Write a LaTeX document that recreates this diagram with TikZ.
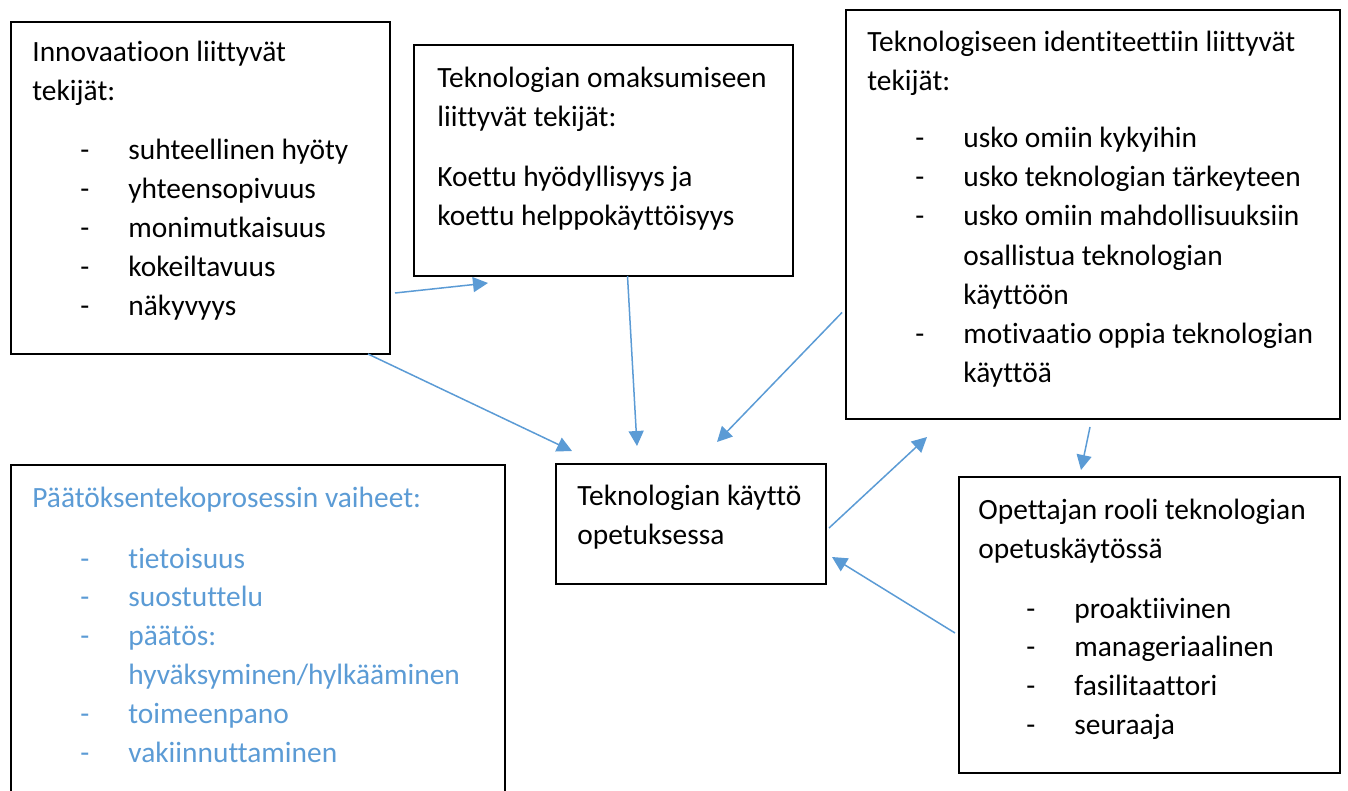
\documentclass[tikz,border=0pt]{standalone}
\usepackage{fontspec}
\setmainfont{Carlito}[Ligatures=NoCommon]
\usepackage{tikz}
\usetikzlibrary{positioning, calc, arrows.meta}
\definecolor{LinkBlue}{HTML}{5B9BD5}
\tikzset{
  factorbox/.style={draw=black, line width=1pt, inner sep=0pt, outer sep=0pt, anchor=north west},
  txt/.style={anchor=base west, inner sep=0pt, font=\fontsize{14.7}{19.4}\selectfont},
  link/.style={LinkBlue, line width=0.75pt, -{Triangle[length=7.5pt,width=7.5pt]}}
}

\begin{document}
\begin{tikzpicture}[x=0.5pt, y=-0.5pt]
  \useasboundingbox (0,0) rectangle (1348,791);

  \node[factorbox, minimum width=189.5pt, minimum height=166pt] (inno) at (11,22) {};
  \node[factorbox, minimum width=189.5pt, minimum height=115.5pt] (omak) at (414,45) {};
  \node[factorbox, minimum width=247pt, minimum height=204.5pt] (ident) at (846,10) {};
  \node[factorbox, minimum width=247pt, minimum height=170pt] (paat) at (11,465) {};
  \node[factorbox, minimum width=135pt, minimum height=60pt] (use) at (556,464) {};
  \node[factorbox, minimum width=190.5pt, minimum height=148pt] (role) at (959,477) {};

  % innovaatio
  \node[txt] (inno-1) at ($(inno.north west)+(21,40)$) {Innovaatioon liittyvät};
  \node[txt] (inno-2) at ($(inno.north west)+(21,79)$) {tekijät:};
  \foreach \i/\t in {0/suhteellinen hyöty, 1/yhteensopivuus, 2/monimutkaisuus,
                     3/kokeiltavuus, 4/näkyvyys}{
    \pgfmathsetmacro{\ypos}{138+\i*38.8}
    \node[txt] (inno-d\i) at ($(inno.north west)+(69,\ypos)$) {-};
    \node[txt] (inno-i\i) at ($(inno.north west)+(117,\ypos)$) {\t};
  }

  % omaksuminen
  \node[txt] (omak-1) at ($(omak.north west)+(23,43)$) {Teknologian omaksumiseen};
  \node[txt] (omak-2) at ($(omak.north west)+(23,82)$) {liittyvät tekijät:};
  \node[txt] (omak-3) at ($(omak.north west)+(23,142)$) {Koettu hyödyllisyys ja};
  \node[txt] (omak-4) at ($(omak.north west)+(23,181)$) {koettu helppokäyttöisyys};

  % identiteetti
  \node[txt] (ident-1) at ($(ident.north west)+(21,42)$) {Teknologiseen identiteettiin liittyvät};
  \node[txt] (ident-2) at ($(ident.north west)+(21,81)$) {tekijät:};
  \foreach \i/\d/\t in {0/-/usko omiin kykyihin, 1/-/usko teknologian tärkeyteen,
                        2/-/usko omiin mahdollisuuksiin, 3//osallistua teknologian,
                        4//käyttöön, 5/-/motivaatio oppia teknologian, 6//käyttöä}{
    \pgfmathsetmacro{\ypos}{138+\i*39}
    \node[txt] (ident-d\i) at ($(ident.north west)+(69,\ypos)$) {\d};
    \node[txt] (ident-i\i) at ($(ident.north west)+(117,\ypos)$) {\t};
  }

  % paatoksenteko
  \node[txt, LinkBlue] (paat-1) at ($(paat.north west)+(21,42)$) {Päätöksentekoprosessin vaiheet:};
  \foreach \i/\d/\t in {0/-/tietoisuus, 1/-/suostuttelu, 2/-/päätös:,
                        3//{hyväksyminen/hylkääminen}, 4/-/toimeenpano, 5/-/vakiinnuttaminen}{
    \pgfmathsetmacro{\ypos}{103+\i*38.8}
    \node[txt, LinkBlue] (paat-d\i) at ($(paat.north west)+(69,\ypos)$) {\d};
    \node[txt, LinkBlue] (paat-i\i) at ($(paat.north west)+(117,\ypos)$) {\t};
  }

  % kaytto
  \node[txt] (use-1) at ($(use.north west)+(21,41)$) {Teknologian käyttö};
  \node[txt] (use-2) at ($(use.north west)+(21,80)$) {opetuksessa};

  % rooli
  \node[txt] (role-1) at ($(role.north west)+(19,42)$) {Opettajan rooli teknologian};
  \node[txt] (role-2) at ($(role.north west)+(19,81)$) {opetuskäytössä};
  \foreach \i/\t in {0/proaktiivinen, 1/manageriaalinen, 2/fasilitaattori, 3/seuraaja}{
    \pgfmathsetmacro{\ypos}{141+\i*38.8}
    \node[txt] (role-d\i) at ($(role.north west)+(67,\ypos)$) {-};
    \node[txt] (role-i\i) at ($(role.north west)+(115,\ypos)$) {\t};
  }

  \draw[link] ($(inno.east)+(5,105)$) -- ($(omak.south west)+(74,7)$);
  \draw[link] ($(inno.south east)+(-22,0)$) -- ($(use.north west)+(16,-13)$);
  \draw[link] ($(omak.south)+(24,0)$) -- ($(use.north)+(-54,-18)$);
  \draw[link] ($(ident.west)+(-4,98)$) -- ($(use.north)+(26,-22)$);
  \draw[link] ($(use.east)+(3,4)$) -- ($(ident.south west)+(81,18)$);
  \draw[link] ($(ident.south)+(-3,8)$) -- ($(role.north)+(-68.5,-7)$);
  \draw[link] ($(role.west)+(-4,8)$) -- ($(use.east)+(6,33)$);
\end{tikzpicture}
\end{document}
